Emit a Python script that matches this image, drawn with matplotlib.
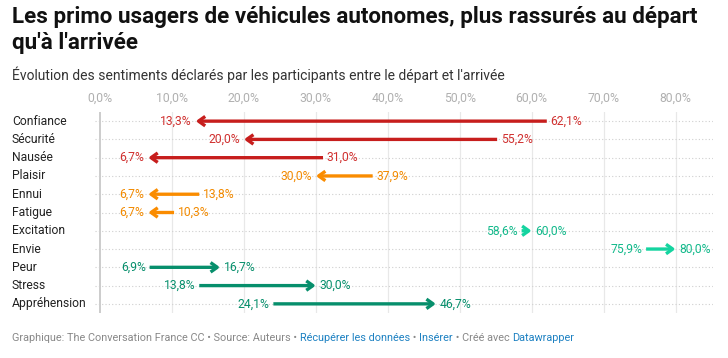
import matplotlib
matplotlib.use("Agg")
import matplotlib.pyplot as plt
from matplotlib import transforms

plt.rcParams['font.family'] = ['Roboto', 'DejaVu Sans']

categories = ["Confiance", "Sécurité", "Nausée", "Plaisir", "Ennui", "Fatigue",
              "Excitation", "Envie", "Peur", "Stress", "Appréhension"]
depart = [62.1, 55.2, 31.0, 37.9, 13.8, 10.3, 58.6, 75.9, 6.9, 13.8, 24.1]
arrivee = [13.3, 20.0, 6.7, 30.0, 6.7, 6.7, 60.0, 80.0, 16.7, 30.0, 46.7]
line_colors = ["#c71e1d", "#c71e1d", "#c71e1d", "#fa8c00", "#fa8c00", "#fa8c00",
               "#15d4a0", "#15d4a0", "#078f6c", "#078f6c", "#078f6c"]
text_colors = ["#d0302f", "#d0302f", "#d0302f", "#f28a00", "#f28a00", "#f28a00",
               "#12b98b", "#12b98b", "#078f6c", "#078f6c", "#078f6c"]
xticks = [0, 10, 20, 30, 40, 50, 60, 70, 80]

W, H = 728, 358
fig = plt.figure(figsize=(W / 100, H / 100), dpi=100)

def fx(px):
    return px / W

def fy(py):
    return 1 - py / H

ax = fig.add_axes([fx(95), fy(313), fx(713) - fx(95), fy(112) - fy(313)])
ax.set_xlim(-0.69, 85.2)
ax.set_ylim(len(categories) - 0.5, -0.5)
for s in ax.spines.values():
    s.set_visible(False)
ax.set_yticks([])
ax.xaxis.tick_top()
ax.set_xticks(xticks)
ax.set_xticklabels([f"{t:.1f}%".replace(".", ",") for t in xticks],
                   color="#b0b0b0", fontsize=8.8)
ax.tick_params(axis='x', length=0, pad=5)

for t in xticks:
    if t == 0:
        ax.axvline(t, color="#c8c8c8", lw=1.3, zorder=1)
    else:
        ax.axvline(t, color="#e8e8e8", lw=0.9, zorder=1)

for i in range(len(categories)):
    ax.axhline(i, color="#cfcfcf", lw=0.8, ls=(0, (1, 2)), zorder=1)

lab_tr = transforms.blended_transform_factory(fig.transFigure, ax.transData)
off = 0.55
for i, (c, d, a) in enumerate(zip(categories, depart, arrivee)):
    ax.text(fx(12), i, c, transform=lab_tr, ha='left', va='center',
            fontsize=8.7, color="#222222")
    ax.annotate('', xy=(a, i), xytext=(d, i),
                arrowprops=dict(arrowstyle='->, head_length=0.48, head_width=0.34',
                                color=line_colors[i], lw=2.4,
                                shrinkA=0, shrinkB=0, capstyle='butt'),
                zorder=3)
    fmt = lambda v: f"{v:.1f}%".replace(".", ",")
    if a < d:
        ax.text(a - off, i, fmt(a), ha='right', va='center', fontsize=8.7,
                color=text_colors[i])
        ax.text(d + off, i, fmt(d), ha='left', va='center', fontsize=8.7,
                color=text_colors[i])
    else:
        ax.text(d - off, i, fmt(d), ha='right', va='center', fontsize=8.7,
                color=text_colors[i])
        ax.text(a + off, i, fmt(a), ha='left', va='center', fontsize=8.7,
                color=text_colors[i])

fig.text(fx(12), fy(6), "Les primo usagers de véhicules autonomes, plus rassurés au départ\nqu'à l'arrivée",
         ha='left', va='top', fontsize=16.1, fontweight='bold', color="#111111",
         linespacing=1.24)
fig.text(fx(12), fy(75), "Évolution des sentiments déclarés par les participants entre le départ et l'arrivée",
         ha='left', va='center', fontsize=10, color="#333333")

footer = [("Graphique: The Conversation France CC • Source: Auteurs • ", "#888888"),
          ("Récupérer les données", "#1d81c2"),
          (" • ", "#888888"),
          ("Insérer", "#1d81c2"),
          (" • Créé avec ", "#888888"),
          ("Datawrapper", "#1d81c2")]
fig.canvas.draw()
renderer = fig.canvas.get_renderer()
x = 12
for txt, col in footer:
    t = fig.text(fx(x), fy(338), txt, ha='left', va='center', fontsize=7.8, color=col)
    bb = t.get_window_extent(renderer=renderer)
    x += bb.width

fig.savefig("out.png", dpi=100)
